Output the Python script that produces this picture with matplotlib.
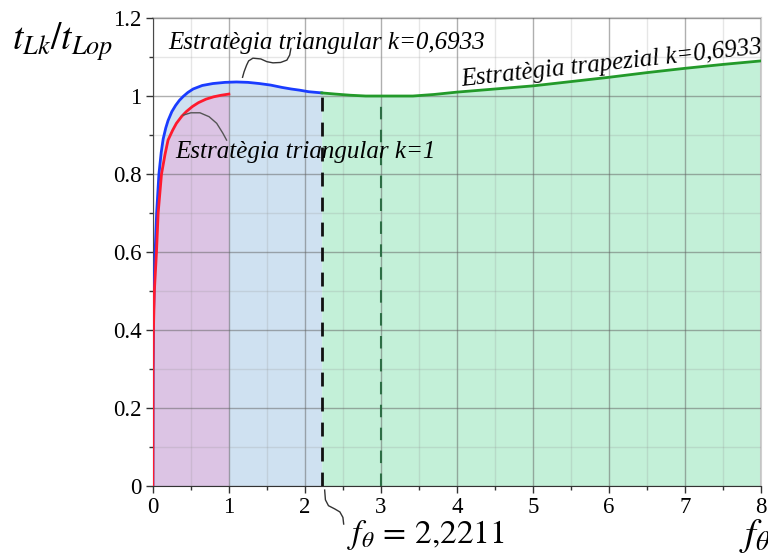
import matplotlib.pyplot as plt
from matplotlib.ticker import MultipleLocator

# k=1 triangular strategy (red)
tri1_x = [0, 0.003, 0.008, 0.02, 0.048, 0.07, 0.114, 0.16, 0.2, 0.26, 0.31, 0.38, 0.44, 0.52, 0.6, 0.7, 0.8, 0.9, 1.0]
tri1_y = [0, 0.3, 0.4, 0.5, 0.6, 0.7, 0.8, 0.85, 0.887, 0.912, 0.93, 0.948, 0.96, 0.973, 0.983, 0.992, 0.998, 1.002, 1.005]

# k=0,6933 triangular strategy (blue)
tri2_x = [0, 0.003, 0.01, 0.03, 0.05, 0.08, 0.11, 0.136, 0.17, 0.2, 0.25, 0.3, 0.35, 0.4, 0.46, 0.53, 0.65, 0.79, 0.95, 1.1,
          1.25, 1.4, 1.55, 1.7, 1.82, 1.93, 2.05, 2.2211]
tri2_y = [0, 0.3, 0.45, 0.6, 0.7, 0.8, 0.855, 0.89, 0.918, 0.937, 0.96, 0.976, 0.989, 0.999, 1.009, 1.018, 1.027, 1.032, 1.035, 1.036,
          1.035, 1.032, 1.028, 1.022, 1.018, 1.015, 1.011, 1.008]

# k=0,6933 trapezoidal strategy (green)
trap_x = [2.2211, 2.4, 2.6, 2.8, 3.0, 3.2, 3.42, 3.7, 4.0, 4.5, 5.0, 5.5, 6.0, 6.5, 7.0, 7.5, 8.0]
trap_y = [1.008, 1.005, 1.002, 1.0, 1.0, 1.0, 1.0, 1.004, 1.01, 1.018, 1.026, 1.037, 1.048, 1.06, 1.071, 1.081, 1.09]

f_theta = 2.2211
f_min = 3.0

plt.rcParams['font.family'] = ['Liberation Serif', 'DejaVu Serif']
plt.rcParams['mathtext.fontset'] = 'stix'

fig = plt.figure(figsize=(7.68, 5.55), dpi=100)
ax = fig.add_axes([0.199, 0.124, 0.792, 0.8436])

ax.fill_between(tri2_x, 0, tri2_y, color='#cfe1f1', lw=0, zorder=1)
ax.fill_between(tri1_x, 0, tri1_y, color='#dcc4e4', lw=0, zorder=1.1)
ax.fill_between(trap_x, 0, trap_y, color='#c3f0d8', lw=0, zorder=1)

ax.plot(tri2_x, tri2_y, color='#1a3cff', lw=2.0, zorder=4)
ax.plot(tri1_x, tri1_y, color='#ff1a2e', lw=2.0, zorder=4)
ax.plot(trap_x, trap_y, color='#239a2a', lw=2.0, zorder=4)

ax.vlines(f_theta, 0, tri2_y[-1], colors='#111111', linestyles=(0, (5, 4)), lw=2.0, zorder=3)
ax.vlines(f_min, 0, 1.0, colors='#2d6e45', linestyles=(0, (6, 5)), lw=1.5, zorder=3)

ax.set_xlim(0, 8)
ax.set_ylim(0, 1.2)
ax.xaxis.set_major_locator(MultipleLocator(1))
ax.xaxis.set_minor_locator(MultipleLocator(0.5))
ax.yaxis.set_major_locator(MultipleLocator(0.2))
ax.yaxis.set_minor_locator(MultipleLocator(0.1))
ax.set_yticks([0, 0.2, 0.4, 0.6, 0.8, 1, 1.2])
ax.set_yticklabels(['0', '0.2', '0.4', '0.6', '0.8', '1', '1.2'])

ax.set_axisbelow(False)
ax.grid(True, which='major', color='#606060', alpha=0.5, lw=1.0, zorder=2)
ax.grid(True, which='minor', color='#909090', alpha=0.22, lw=1.0, zorder=2)

ax.tick_params(which='major', direction='out', length=5, width=1, color='#333333', labelsize=16.5, pad=3)
ax.tick_params(which='minor', direction='out', length=3, width=1, color='#333333')
for s in ['left', 'bottom']:
    ax.spines[s].set_color('#333333')
for s in ['top', 'right']:
    ax.spines[s].set_color('#cfcfcf')
    ax.spines[s].set_linewidth(1.5)

# axis titles
fig.text(0.016, 0.925, r'$t_{Lk}/t_{Lop}$', fontsize=27, ha='left', va='center')
fig.text(0.962, 0.035, r'$f_\theta$', fontsize=28, ha='left', va='center')
ax.text(f_theta + 0.33, -0.125, r'$f_\theta\,=\,2{,}2211$', fontsize=24, ha='left', va='center')

# labels
ax.text(0.2, 1.137, 'Estratègia triangular k=0,6933', fontsize=18, style='italic', ha='left', va='center')
ax.text(0.29, 0.856, 'Estratègia triangular k=1', fontsize=18, style='italic', ha='left', va='center')
ax.text(6.04, 1.083, 'Estratègia trapezial k=0,6933', fontsize=18, style='italic', ha='center', va='center',
        rotation=6.2, rotation_mode='anchor')

# connectors
wave_x = [1.816, 1.80, 1.763, 1.68, 1.58, 1.5, 1.42, 1.316, 1.26, 1.233, 1.2, 1.18]
wave_y = [1.122, 1.105, 1.092, 1.086, 1.085, 1.088, 1.095, 1.097, 1.09, 1.079, 1.062, 1.048]
ax.plot(wave_x, wave_y, color='#333333', lw=1.0, zorder=5)

arc_x = [0.40, 0.5, 0.62, 0.74, 0.84, 0.92, 0.97]
arc_y = [0.951, 0.957, 0.957, 0.947, 0.93, 0.905, 0.887]
ax.plot(arc_x, arc_y, color='#555555', lw=1.0, zorder=5)

hook_x = [2.26, 2.27, 2.31, 2.39, 2.46, 2.5, 2.51]
hook_y = [-0.01, -0.035, -0.05, -0.058, -0.066, -0.08, -0.097]
ax.plot(hook_x, hook_y, color='#333333', lw=1.0, clip_on=False, zorder=5)

fig.savefig('out.png', dpi=100)
